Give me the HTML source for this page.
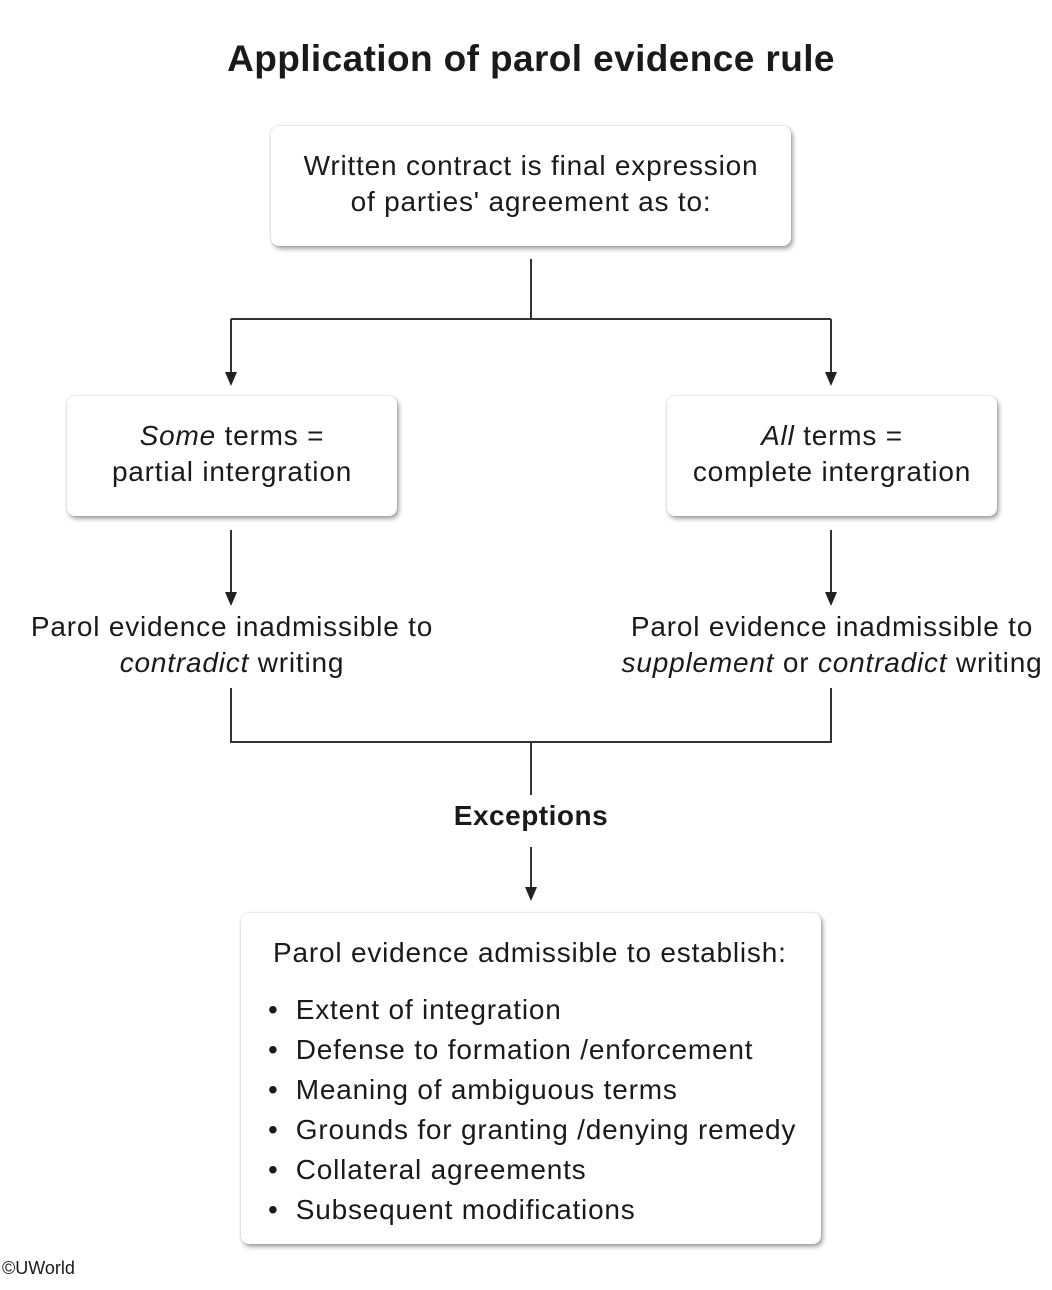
<!DOCTYPE html>
<html><head><style>
body{margin:0;width:1052px;height:1290px;background:#fff;position:relative;font-family:"Liberation Sans",Arial,sans-serif;color:#1a1a1a;overflow:hidden}
.t{position:absolute;white-space:nowrap}
.box{position:absolute;background:#fff;border-radius:8px;box-shadow:2px 3px 5px rgba(0,0,0,.35),0 0 2px rgba(0,0,0,.2);}
.c{text-align:center;font-size:28px;line-height:36px;letter-spacing:0.8px}
</style></head><body>
<div class="t" style="left:0;width:1062px;top:38px;text-align:center;font-size:37px;font-weight:bold;letter-spacing:0.4px">Application of parol evidence rule</div>
<div class="box" style="left:271px;top:126px;width:520px;height:120px"></div>
<div class="box" style="left:67px;top:396px;width:330px;height:120px"></div>
<div class="box" style="left:667px;top:396px;width:330px;height:120px"></div>
<div class="box" style="left:241px;top:913px;width:580px;height:331px"></div>
<svg width="1052" height="1290" style="position:absolute;left:0;top:0">
<g stroke="#333" stroke-width="2" fill="none">
<path d="M531 259 V319 M231 319 H831"/>
<path d="M231 319 V374 M831 319 V374 M231 530 V594 M831 530 V594 M531 847 V889"/>
<path d="M231 688 V742 H831 V688 M531 742 V795"/>
</g>
<g fill="#222">
<path d="M225 372 L237 372 L231 386 Z"/>
<path d="M825 372 L837 372 L831 386 Z"/>
<path d="M225 592 L237 592 L231 606 Z"/>
<path d="M825 592 L837 592 L831 606 Z"/>
<path d="M525 887 L537 887 L531 901 Z"/>
</g></svg>
<div class="t c" style="left:271px;width:520px;top:148px">Written contract is final expression<br>of parties' agreement as to:</div>
<div class="t c" style="left:67px;width:330px;top:418px"><i>Some</i> terms =<br>partial intergration</div>
<div class="t c" style="left:667px;width:330px;top:418px"><i>All</i> terms =<br>complete intergration</div>
<div class="t c" style="left:0;width:464px;top:609px">Parol evidence inadmissible to<br><i>contradict</i> writing</div>
<div class="t c" style="left:612px;width:440px;top:609px">Parol evidence inadmissible to<br><i>supplement</i> or <i>contradict</i> writing</div>
<div class="t" style="left:0;width:1062px;text-align:center;top:800px;font-size:28px;font-weight:bold;letter-spacing:0.5px">Exceptions</div>
<div class="t" style="left:273px;top:935px;font-size:28px;line-height:36px;letter-spacing:0.8px">Parol evidence admissible to establish:</div>
<div class="t" style="left:268px;top:990px;font-size:28px;line-height:40px;letter-spacing:0.8px">
<div>•&nbsp; Extent of integration</div>
<div>•&nbsp; Defense to formation /enforcement</div>
<div>•&nbsp; Meaning of ambiguous terms</div>
<div>•&nbsp; Grounds for granting /denying remedy</div>
<div>•&nbsp; Collateral agreements</div>
<div>•&nbsp; Subsequent modifications</div>
</div>
<div class="t" style="left:2px;top:1258px;font-size:18px">©UWorld</div>
</body></html>
